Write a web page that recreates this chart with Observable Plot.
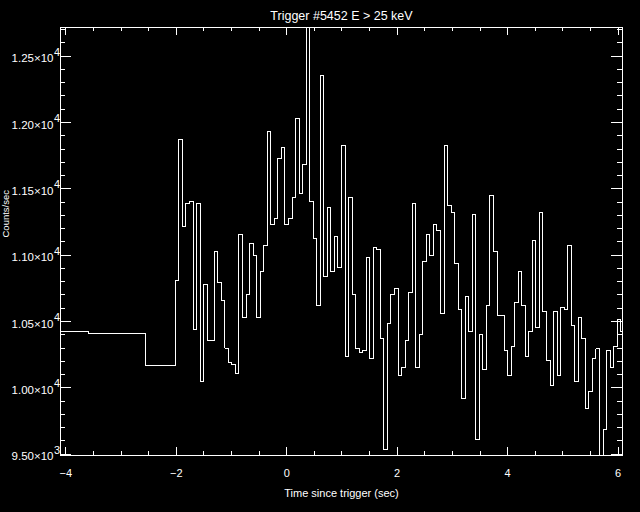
<!DOCTYPE html>
<html><head><meta charset="utf-8">
<script src="https://cdn.jsdelivr.net/npm/d3@7"></script>
<script src="https://cdn.jsdelivr.net/npm/@observablehq/plot@0.6"></script>
<style>
html,body{margin:0;padding:0;background:#000;}
#chart svg{display:block}
</style></head><body><div id="chart"></div>
<script>
const title = "Trigger #5452 E > 25 keV";
const xLabel = "Time since trigger (sec)";
const yLabel = "Counts/sec";

// coarse (1.024 s) samples before the fine-resolution data
const coarseTimes = [-4.096, -3.072];
const coarseRates = [10424, 10409];

// fine (64 ms) samples
const fineStart = -2.048;
const fineStep = 0.064;
const fineRates = [10168,
10809, 11872, 11218, 11389, 11405, 10440, 11389, 10047, 10779, 10357,
10357, 11028, 10796, 10660, 10300, 10191, 10173, 10108, 11156, 10530,
10703, 11088, 10997, 10530, 10879, 11075, 11932, 11231, 11276, 11730,
11812, 11231, 11276, 11435, 12030, 11465, 11683, 12716, 11404, 11125,
10620, 12354, 10839, 11359, 10877, 11141, 10907, 11827, 10236, 11435,
10703, 10296, 10266, 10281, 10982, 10221, 11058, 11043, 10372, 9535,
10485, 10703, 10749, 10093, 10153, 10357, 10718, 11389, 10153, 10402,
10952, 11156, 10997, 11231, 11186, 10560, 11827, 11374, 11322, 10937,
10590, 9919, 10688, 10424, 11306, 9610, 10402, 10138, 10620, 11450,
11028, 10545, 10545, 10281, 10093, 10311, 10643, 10877, 10620, 10236,
10424, 11110, 10455, 11322, 10575, 10206, 10017, 10575, 10093, 10605,
10590, 11073, 10470, 10047, 10530, 10372, 9844, 9972, 10221, 10296,
9490, 9686, 10281, 10153, 10311, 10515, 10424];

const xDomain = [-4.096, 6.08];
const yDomain = [9490, 12716];

const xMajorTicks = [-4, -2, 0, 2, 4, 6];
const xTickLabels = ["\u22124", "\u22122", "0", "2", "4", "6"];
const xMinorTicks = [-3.5, -3, -2.5, -1.5, -1, -0.5, 0.5, 1, 1.5, 2.5, 3, 3.5, 4.5, 5, 5.5];

const yMajorTicks = [9500, 10000, 10500, 11000, 11500, 12000, 12500];
const yTickMantissa = ["9.50", "1.00", "1.05", "1.10", "1.15", "1.20", "1.25"];
const yTickExponent = ["3", "4", "4", "4", "4", "4", "4"];
const yMinorTicks = [9600, 9700, 9800, 9900, 10100, 10200, 10300, 10400, 10600, 10700, 10800, 10900,
  11100, 11200, 11300, 11400, 11600, 11700, 11800, 11900, 12100, 12200, 12300, 12400, 12600, 12700];

const series = coarseTimes.map((t, i) => ({t, v: coarseRates[i]}))
  .concat(fineRates.map((v, i) => ({t: fineStart + i * fineStep, v})));

const W = 640, H = 512, mL = 60, mR = 18, mT = 27, mB = 57;
const fw = W - mL - mR, fh = H - mT - mB;
const white = "#fff";
const font = "'Liberation Sans', Arial, sans-serif";
const crisp = "crispEdges";

const chart = Plot.plot({
  width: W, height: H,
  marginLeft: mL, marginRight: mR, marginTop: mT, marginBottom: mB,
  style: {background: "#000", color: white, fontFamily: font},
  x: {domain: xDomain, axis: null},
  y: {domain: yDomain, axis: null},
  marks: [
    Plot.line(series, {x: "t", y: "v", curve: "step", stroke: white, strokeWidth: 1, clip: true, shapeRendering: crisp}),
    Plot.frame({stroke: white, shapeRendering: crisp}),
    Plot.tickX(xMajorTicks, {x: d => d, stroke: white, insetTop: fh - 8, shapeRendering: crisp}),
    Plot.tickX(xMajorTicks, {x: d => d, stroke: white, insetBottom: fh - 8, shapeRendering: crisp}),
    Plot.tickX(xMinorTicks, {x: d => d, stroke: white, insetTop: fh - 4, shapeRendering: crisp}),
    Plot.tickX(xMinorTicks, {x: d => d, stroke: white, insetBottom: fh - 4, shapeRendering: crisp}),
    Plot.tickY(yMajorTicks, {y: d => d, stroke: white, insetRight: fw - 11, shapeRendering: crisp}),
    Plot.tickY(yMajorTicks, {y: d => d, stroke: white, insetLeft: fw - 11, shapeRendering: crisp}),
    Plot.tickY(yMinorTicks, {y: d => d, stroke: white, insetRight: fw - 5, shapeRendering: crisp}),
    Plot.tickY(yMinorTicks, {y: d => d, stroke: white, insetLeft: fw - 5, shapeRendering: crisp}),
    Plot.text(xMajorTicks, {x: d => d, frameAnchor: "bottom", dy: 18, text: (d, i) => xTickLabels[i], fill: white, fontSize: 11, lineAnchor: "middle"}),
    Plot.text(yMajorTicks, {y: d => d, frameAnchor: "left", dx: -7, dy: 2.5, textAnchor: "end", lineAnchor: "middle", text: (d, i) => yTickMantissa[i] + "\u00d710", fill: white, fontSize: 11.5}),
    Plot.text(yMajorTicks, {y: d => d, frameAnchor: "left", dx: -6.5, dy: -4, textAnchor: "start", lineAnchor: "middle", text: (d, i) => yTickExponent[i], fill: white, fontSize: 11}),
    Plot.text([title], {frameAnchor: "top", dy: -12, text: d => d, fill: white, fontSize: 12.5, lineAnchor: "middle"}),
    Plot.text([xLabel], {frameAnchor: "bottom", dy: 37.5, text: d => d, fill: white, fontSize: 11, lineAnchor: "middle"}),
    Plot.text([yLabel], {frameAnchor: "left", dx: -55, dy: -4, rotate: -90, text: d => d, fill: white, fontSize: 9.5, lineAnchor: "middle"})
  ]
});
document.getElementById("chart").appendChild(chart);
</script>
</body></html>
